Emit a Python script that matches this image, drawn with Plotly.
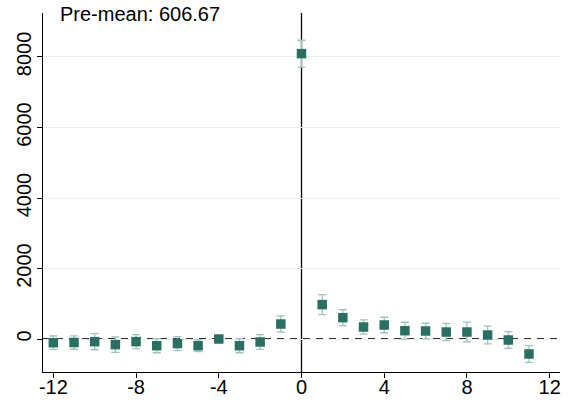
import plotly.graph_objects as go

periods = list(range(-12, 12))
estimates = [-105, -100, -75, -160, -75, -190, -130, -190, 0, -190, -85, 425,
             8095, 975, 605, 340, 397, 236, 227, 198, 198, 113, -28, -425]
ci_half = [190, 190, 230, 220, 200, 200, 200, 170, 0, 200, 210, 230,
           380, 285, 225, 200, 220, 240, 220, 245, 280, 250, 235, 240]
y_ticks = [0, 2000, 4000, 6000, 8000]
x_ticks = [-12, -8, -4, 0, 4, 8, 12]
title_text = "Pre-mean: 606.67"

fig = go.Figure()
fig.add_trace(go.Scatter(
    x=periods, y=estimates, mode="markers",
    marker=dict(symbol="square", size=9.5, color="#2b6f63"),
    error_y=dict(type="data", array=ci_half, visible=True,
                 color="#9fc2bc", thickness=1.3, width=4),
    showlegend=False,
))

fig.add_shape(type="line", xref="x", yref="paper", x0=0, x1=0, y0=0, y1=1,
              line=dict(color="black", width=1.3), layer="below")
fig.add_shape(type="line", xref="paper", yref="y", x0=0, x1=1, y0=0, y1=0,
              line=dict(color="#333333", width=2, dash="7px,6px"), layer="below")

fig.update_layout(
    width=568, height=405,
    margin=dict(l=43, r=8, t=13, b=33),
    paper_bgcolor="white", plot_bgcolor="white",
    font=dict(family="Liberation Sans, Arial, sans-serif", size=20, color="black"),
    annotations=[dict(text=title_text, xref="paper", yref="paper", x=0.029, y=1.0,
                      yshift=-1, xanchor="left", yanchor="middle", showarrow=False,
                      font=dict(size=20, color="black"))],
)
fig.update_xaxes(range=[-12.5, 12.5], tickvals=x_ticks, ticktext=[str(v) for v in x_ticks],
                 showgrid=False, zeroline=False, showline=True, linecolor="black", linewidth=1,
                 ticks="outside", ticklen=5, tickcolor="black", automargin=False,
                 ticklabelstandoff=-8)
fig.update_yaxes(range=[-936, 9248], tickvals=y_ticks, ticktext=[str(v) for v in y_ticks],
                 tickangle=-90, showgrid=True, gridcolor="#e8f0f0", gridwidth=1,
                 zeroline=False, showline=True, linecolor="black", linewidth=1,
                 ticks="outside", ticklen=5, tickcolor="black", automargin=False,
                 ticklabelstandoff=-2)

fig.write_html("out.html", config={"displayModeBar": False},
               post_script="document.body.style.margin='0';")
